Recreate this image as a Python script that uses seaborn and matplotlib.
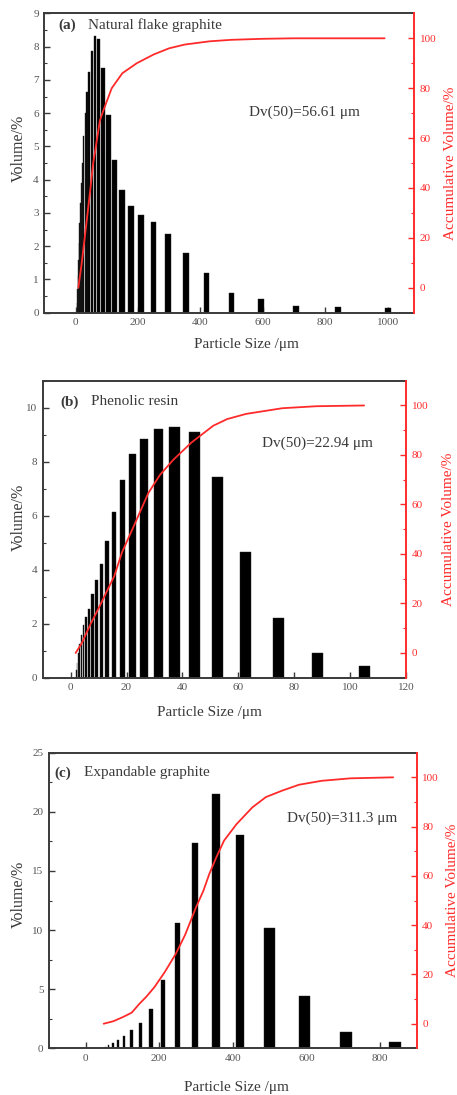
import matplotlib
matplotlib.use("Agg")
import matplotlib.pyplot as plt
import matplotlib.ticker as mticker
import numpy as np
import pandas as pd
import seaborn as sns

# ---- (a) Natural flake graphite ----
size_a = [5.5, 6.6, 7.8, 9.3, 11.0, 13.1, 15.6, 18.6, 22.1, 26.3, 31.3, 37.2, 44.2,
          52.6, 62.5, 74.3, 88.4, 105, 125, 149, 177, 210, 250, 297, 354, 420,
          500, 595, 707, 841, 1000]
vol_a = [0.3, 0.7, 1.1, 1.6, 2.1, 2.7, 3.3, 3.9, 4.5, 5.3, 6.0, 6.64, 7.24,
         7.87, 8.31, 8.24, 7.35, 5.94, 4.59, 3.68, 3.2, 2.93, 2.73, 2.36, 1.8, 1.2,
         0.6, 0.42, 0.2, 0.17, 0.15]
cum_x_a = [9, 20, 36, 48, 56.6, 62, 78, 89, 116, 150, 196, 250, 300, 350, 430,
           500, 600, 700, 850, 990]
cum_y_a = [0, 10, 27, 40, 50, 54, 67, 71, 80, 86, 90, 93.5, 96, 97.5, 98.8,
           99.4, 99.8, 100, 100, 100]

# ---- (b) Phenolic resin ----
size_b = [2.0, 2.3, 2.8, 3.3, 3.9, 4.6, 5.5, 6.6, 7.8, 9.3, 11.0, 13.1, 15.6,
          18.6, 22.1, 26.3, 31.3, 37.2, 44.2, 52.6, 62.5, 74.3, 88.4, 105]
vol_b = [0.3, 0.55, 0.9, 1.25, 1.6, 1.95, 2.25, 2.55, 3.09, 3.62, 4.2, 5.07, 6.15,
         7.32, 8.27, 8.84, 9.21, 9.3, 9.11, 7.44, 4.64, 2.2, 0.92, 0.43]
cum_x_b = [1.8, 4, 7.1, 10, 13, 15.6, 18.4, 22.5, 27.8, 32, 36.7, 43.2, 51, 56,
           62.8, 75.8, 88, 105]
cum_y_b = [0, 4, 11.6, 18, 25, 31, 40.7, 51, 64.6, 72, 78, 85, 91.8, 94.5,
           96.6, 98.9, 99.7, 100]

# ---- (c) Expandable graphite ----
size_c = [52.6, 62.5, 74.3, 88.4, 105, 125, 149, 177, 210, 250, 297, 354, 420,
          500, 595, 707, 841]
vol_c = [0.12, 0.25, 0.47, 0.73, 1.07, 1.55, 2.11, 3.3, 5.77, 10.6, 17.4, 21.5,
         18.03, 10.14, 4.45, 1.4, 0.56]
cum_x_c = [48.7, 75, 101, 125, 146, 165, 187, 215, 245, 270, 286, 300, 320, 336,
           355, 376, 410, 453, 490, 534, 580, 642, 720, 836]
cum_y_c = [0, 1, 2.7, 4.5, 8.1, 11, 14.9, 21, 28.4, 36, 42, 47.3, 54, 60.8,
           67.5, 74.3, 81, 87.8, 92, 94.6, 97, 98.6, 99.6, 100]

RED = "#ff2b2b"
DARK = "#3a3a3a"
TICKC = "#555555"

sns.set_theme(style="ticks")
plt.rcParams['font.family'] = ['Liberation Serif', 'DejaVu Serif']
plt.rcParams['axes.unicode_minus'] = False


def bar_widths(x, frac, cap):
    # bins are log spaced (ratio 2^(1/4)); bar width follows the bin gap, capped
    x = np.asarray(x, float)
    gap = x - x / 2 ** 0.25
    return np.minimum(frac * gap, cap)


def draw_panel(fig, rect, sizes, vols, cx, cy, frac, cap, xlim, xstep, ylim,
               ystep, title_tag, title, dv_text, title_pos, dv_pos,
               ylab_pos, xlab_pos, rlab_x):
    ax = fig.add_axes(rect)
    df = pd.DataFrame({"size": sizes, "vol": vols})
    ax.bar(df["size"], df["vol"], width=bar_widths(df["size"], frac, cap),
           color="black", edgecolor="#222222", linewidth=0.3, zorder=2)
    ax.set_xlim(*xlim)
    ax.set_ylim(*ylim)
    ax.xaxis.set_major_locator(mticker.MultipleLocator(xstep))
    ax.yaxis.set_major_locator(mticker.MultipleLocator(ystep))
    ax.yaxis.set_minor_locator(mticker.MultipleLocator(ystep / 2))
    ax.tick_params(axis="both", which="major", direction="in", length=4,
                   width=1, color=DARK, labelcolor=TICKC, labelsize=8, pad=4)
    ax.tick_params(axis="y", which="minor", direction="in", length=2,
                   width=0.8, color=DARK)
    ax.tick_params(top=False, right=False)
    for s in ["left", "bottom", "top"]:
        ax.spines[s].set_color(DARK)
        ax.spines[s].set_linewidth(1.4)
    ax.spines["right"].set_visible(False)

    ax.set_ylabel("Volume/%", fontsize=11.5, color=DARK)
    ax.yaxis.set_label_coords(*ylab_pos)
    ax.set_xlabel("Particle Size /\u03bcm", fontsize=11, color=DARK)
    ax.xaxis.set_label_coords(*xlab_pos)

    ax.text(title_pos[0], title_pos[1], title_tag, transform=ax.transAxes,
            fontsize=11, fontweight="bold", color=DARK, ha="left", va="center")
    tag_w = 0.08 if title_tag != "(b)" else 0.085
    ax.text(title_pos[0] + tag_w, title_pos[1], title, transform=ax.transAxes,
            fontsize=11, color=DARK, ha="left", va="center")
    ax.text(dv_pos[0], dv_pos[1], dv_text, transform=ax.transAxes,
            fontsize=11, color=DARK, ha="left", va="center")

    ax2 = ax.twinx()
    cdf = pd.DataFrame({"size": cx, "cum": cy})
    sns.lineplot(data=cdf, x="size", y="cum", ax=ax2, color=RED, linewidth=1.3)
    ax2.set_ylim(-10, 110)
    ax2.yaxis.set_major_locator(mticker.FixedLocator([0, 20, 40, 60, 80, 100]))
    ax2.yaxis.set_minor_locator(mticker.FixedLocator([10, 30, 50, 70, 90]))
    ax2.tick_params(axis="y", which="major", direction="in", length=4, width=1,
                    color=RED, labelcolor=RED, labelsize=8, pad=4)
    ax2.tick_params(axis="y", which="minor", direction="in", length=2,
                    width=0.8, color=RED)
    ax2.spines["right"].set_color(RED)
    ax2.spines["right"].set_linewidth(1.4)
    for s in ["left", "bottom", "top"]:
        ax2.spines[s].set_visible(False)
    ax2.set_xlabel("")
    ax2.set_ylabel("Accumulative Volume/%", fontsize=11, color=RED)
    ax2.yaxis.set_label_coords(rlab_x, 0.5)
    ax2.grid(False)
    ax.grid(False)
    return ax, ax2


fig = plt.figure(figsize=(4.57, 10.95), dpi=100)
fig.patch.set_facecolor("white")

draw_panel(fig, [0.0969, 0.7144, 0.8096, 0.2734], size_a, vol_a, cum_x_a, cum_y_a,
           0.9, 18, (-100, 1085), 200, (0, 9), 1,
           "(a)", "Natural flake graphite", "Dv(50)=56.61 \u03bcm",
           (0.038, 0.961), (0.554, 0.671), (-0.047, 0.55), (0.547, -0.085), 1.08)

draw_panel(fig, [0.0934, 0.3811, 0.795, 0.2712], size_b, vol_b, cum_x_b, cum_y_b,
           0.65, 3.9, (-10, 120), 20, (0, 11), 2,
           "(b)", "Phenolic resin", "Dv(50)=22.94 \u03bcm",
           (0.048, 0.929), (0.603, 0.789), (-0.043, 0.54), (0.46, -0.095), 1.10)

draw_panel(fig, [0.1072, 0.0426, 0.8046, 0.270], size_c, vol_c, cum_x_c, cum_y_c,
           0.35, 32, (-100, 900), 200, (0, 25), 5,
           "(c)", "Expandable graphite", "Dv(50)=311.3 \u03bcm",
           (0.014, 0.932), (0.646, 0.778), (-0.06, 0.52), (0.51, -0.11), 1.08)

fig.savefig("out.png", dpi=100)
